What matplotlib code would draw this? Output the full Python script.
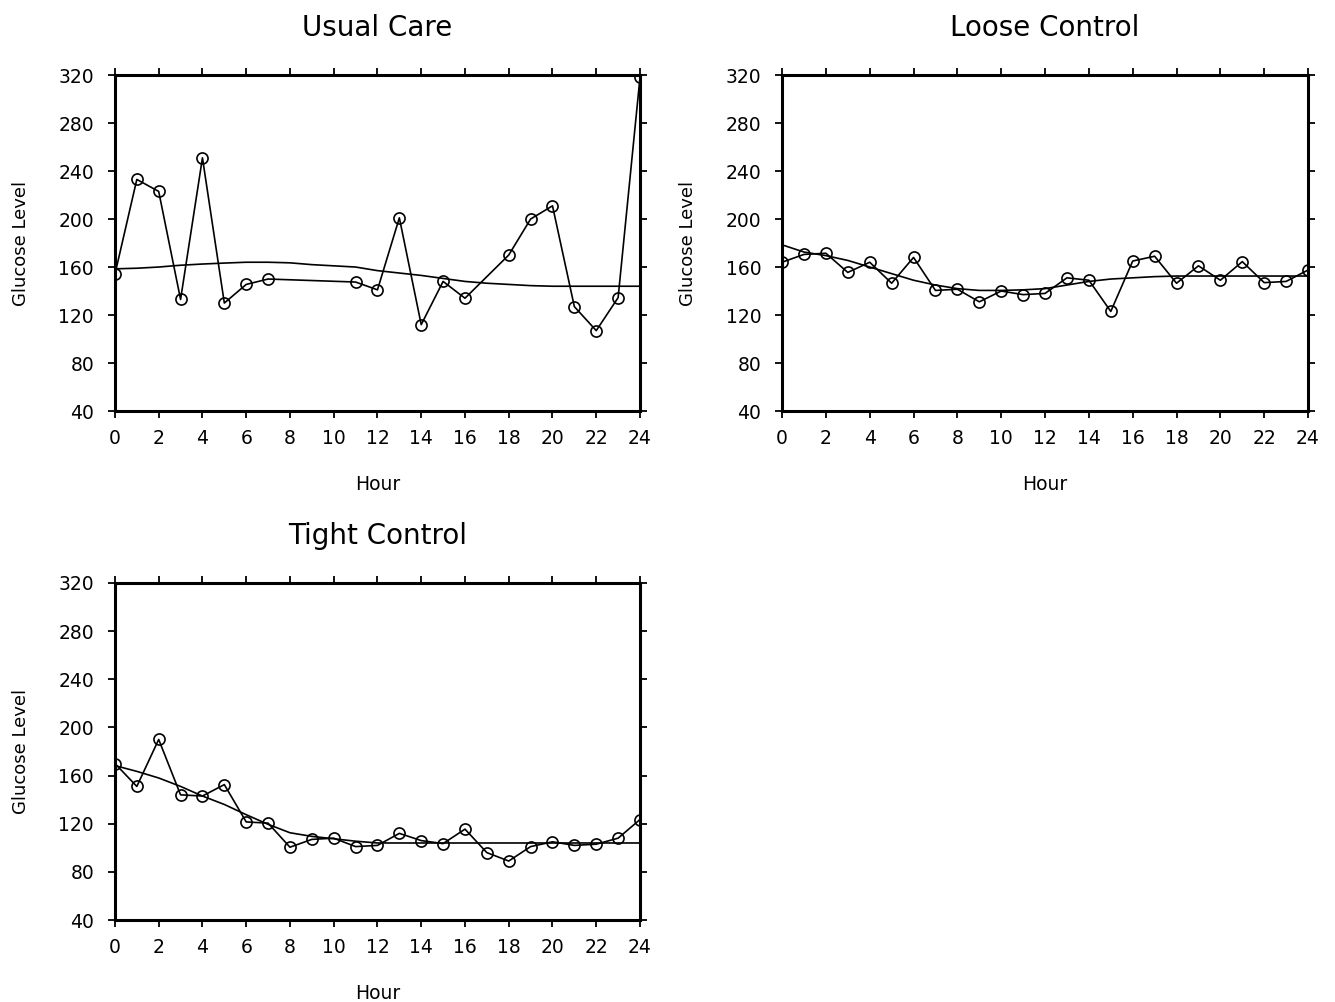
import numpy as np
import matplotlib
matplotlib.use("Agg")
import matplotlib.pyplot as plt

# Hours
hours = list(range(25))

# Usual Care (hours 8, 9, 10 and 17 have no reading)
usual_hours = [0, 1, 2, 3, 4, 5, 6, 7, 11, 12, 13, 14, 15, 16, 18, 19, 20, 21, 22, 23, 24]
usual_glucose = [154, 233, 223, 133, 251, 130, 145.5, 150, 147.5, 141, 201, 112, 148, 134,
                 170, 200, 211, 127, 107, 134.5, 318]
usual_smooth = [158.5, 159, 160, 161.5, 162.5, 163.3, 164, 164, 163.5, 162, 161, 160, 157,
                155, 153, 150.5, 148, 146.5, 145.5, 144.5, 144, 144, 144, 144, 144]

# Loose Control
loose_glucose = [164, 170.5, 171.5, 155.5, 164, 146.5, 168, 140.5, 141.5, 131, 140, 137, 138,
                 151, 149, 123, 165, 169, 146.5, 161, 149, 164.5, 147, 148, 157.5]
loose_smooth = [178.5, 172.5, 169.5, 165.5, 160, 154.5, 149, 145, 142, 140.5, 140.5, 141, 142,
                145, 148, 150, 151, 152, 152.5, 152.5, 152.5, 152.5, 152.5, 152.5, 152.5]

# Tight Control
tight_glucose = [170, 151, 190, 144, 143, 152.5, 121.5, 120.5, 100.5, 107, 108, 101, 102,
                 112, 106, 103.5, 115.5, 96, 89, 101, 105, 102, 103, 108, 123.5]
tight_smooth = [168.3, 163.5, 158, 151, 143, 136, 127.5, 119.5, 112.5, 109.5, 107.5, 105.5, 104,
                104, 104, 104, 104, 104, 104, 104, 104, 104, 104, 104, 104]

panels = [
    ("Usual Care", usual_hours, usual_glucose, usual_smooth, [0.0861, 0.5898, 0.3933, 0.3353]),
    ("Loose Control", hours, loose_glucose, loose_smooth, [0.5858, 0.5898, 0.3940, 0.3353]),
    ("Tight Control", hours, tight_glucose, tight_smooth, [0.0861, 0.0818, 0.3933, 0.3364]),
]

fig = plt.figure(figsize=(13.35, 10.02), dpi=100)

for title, x, y, smooth, rect in panels:
    ax = fig.add_axes(rect)
    # smooth fit
    ax.plot(hours, smooth, color="black", linewidth=1.2)
    # observed means
    ax.plot(x, y, color="black", linewidth=1.2, marker="o", markersize=8,
            markerfacecolor="none", markeredgewidth=1.2)

    ax.set_xlim(0, 24)
    ax.set_ylim(40, 320)
    ax.set_xticks(range(0, 25, 2))
    ax.set_yticks(range(40, 321, 40))
    ax.tick_params(direction="out", length=5, width=1.3, labelsize=13.5,
                   top=True, right=True, pad=8)
    ax.tick_params(axis="y", pad=10)
    for s in ax.spines.values():
        s.set_linewidth(2.2)

    ax.set_title(title, fontsize=20, pad=28)
    ax.set_xlabel("Hour", fontsize=13.5)
    ax.set_ylabel("Glucose Level", fontsize=13)
    ax.xaxis.set_label_coords(0.5, -0.19)
    ax.yaxis.set_label_coords(-0.162, 0.5)

plt.savefig("out.png", dpi=100)
